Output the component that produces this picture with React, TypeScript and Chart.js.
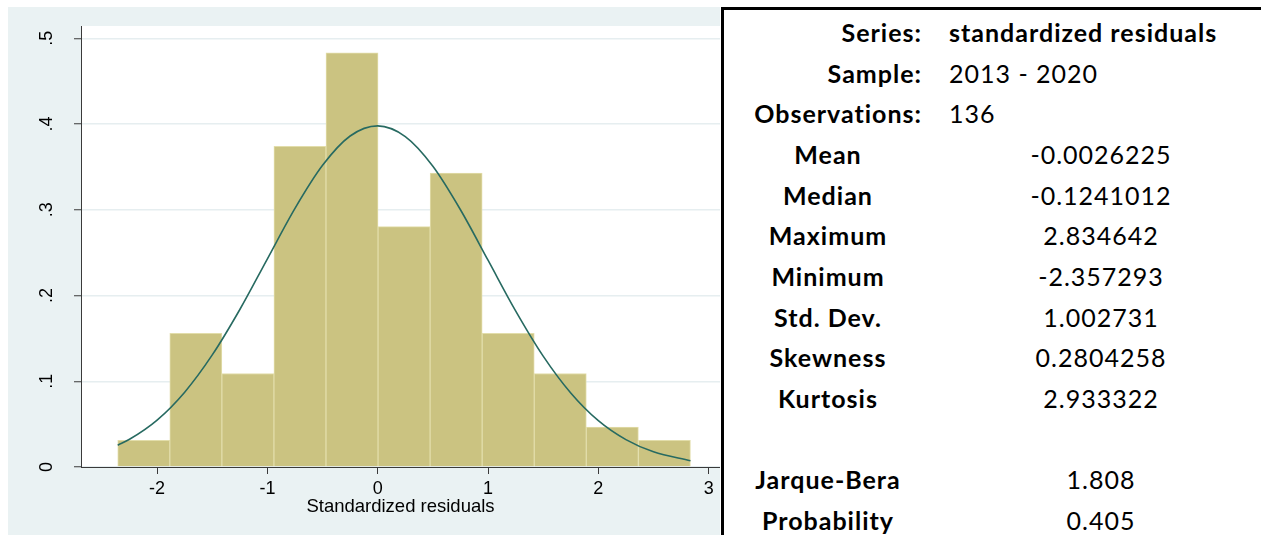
import React, { useEffect, useRef } from "react";
import { Chart, registerables } from "chart.js";

Chart.register(...registerables);

// Histogram bins (edges) and densities
const binEdges = [-2.357, -1.885, -1.413, -0.941, -0.469, 0.003, 0.475, 0.947, 1.419, 1.891, 2.363, 2.835];
const densities = [0.0312, 0.1558, 0.109, 0.3739, 0.4829, 0.2804, 0.3427, 0.1558, 0.109, 0.0467, 0.0312];

// Normal density curve
const curveX = [-2.357, -2.25, -2, -1.75, -1.5, -1.25, -1, -0.75, -0.5, -0.25, 0, 0.25, 0.5, 0.75, 1, 1.25, 1.5, 1.75, 2, 2.25, 2.5, 2.835];
const curveY = [0.0254, 0.0323, 0.0547, 0.0873, 0.1307, 0.1837, 0.2428, 0.3016, 0.3518, 0.386, 0.3978, 0.3853, 0.3507, 0.3, 0.2412, 0.1821, 0.1293, 0.0863, 0.054, 0.0319, 0.0177, 0.0073];

const xTicks = [-2, -1, 0, 1, 2, 3];
const xTickLabels = ["-2", "-1", "0", "1", "2", "3"];
const yTicks = [0, 0.1, 0.2, 0.3, 0.4, 0.5];
const yTickLabels = ["0", ".1", ".2", ".3", ".4", ".5"];
const xTitle = "Standardized residuals";

// Statistics table
const headerLabels = ["Series:", "Sample:", "Observations:"];
const headerValues = ["standardized residuals", "2013 - 2020", "136"];
const statLabels = ["Mean", "Median", "Maximum", "Minimum", "Std. Dev.", "Skewness", "Kurtosis", "", "Jarque-Bera", "Probability"];
const statValues = ["-0.0026225", "-0.1241012", "2.834642", "-2.357293", "1.002731", "0.2804258", "2.933322", "", "1.808", "0.405"];

const BAR_FILL = "rgb(203,195,129)";
const BAR_LINE = "rgb(226,221,170)";
const CURVE = "#276a61";
const PANEL_BG = "#EAF2F3";
const GRID = "#E6EEF0";
const AXIS = "#3a3a3a";
const TICK_FONT = "'Liberation Sans', Arial, sans-serif";

const stataPlugin = {
  id: "stataLook",
  beforeDraw(chart: any) {
    const { ctx, chartArea } = chart;
    ctx.save();
    ctx.fillStyle = "#ffffff";
    ctx.fillRect(chartArea.left, chartArea.top, chartArea.right - chartArea.left, chartArea.bottom - chartArea.top);
    ctx.restore();
  },
  afterDraw(chart: any) {
    const { ctx } = chart;
    const yScale = chart.scales.y;
    ctx.save();
    ctx.fillStyle = "#000";
    ctx.font = `18px ${TICK_FONT}`;
    ctx.textAlign = "center";
    ctx.textBaseline = "alphabetic";
    yTicks.forEach((v, i) => {
      const py = yScale.getPixelForValue(v);
      ctx.save();
      ctx.translate(44, py);
      ctx.rotate(-Math.PI / 2);
      ctx.fillText(yTickLabels[i], 0, 0);
      ctx.restore();
    });
    ctx.restore();
  },
};

function HistogramChart() {
  const ref = useRef<HTMLCanvasElement | null>(null);
  useEffect(() => {
    if (!ref.current) return;
    const barData = densities.map((d, i) => ({ x: (binEdges[i] + binEdges[i + 1]) / 2, y: d }));
    const lineData = curveX.map((x, i) => ({ x, y: curveY[i] }));
    const chart = new Chart(ref.current, {
      type: "bar",
      data: {
        datasets: [
          {
            type: "line",
            data: lineData,
            borderColor: CURVE,
            borderWidth: 1.6,
            pointRadius: 0,
            cubicInterpolationMode: "monotone",
            fill: false,
          } as any,
          {
            type: "bar",
            data: barData,
            backgroundColor: BAR_FILL,
            borderColor: BAR_LINE,
            borderWidth: 1,
            barPercentage: 1,
            categoryPercentage: 1,
          } as any,
        ],
      },
      options: {
        responsive: false,
        animation: false,
        events: [],
        layout: { padding: { top: 19, left: 0, right: 0, bottom: 0 } },
        plugins: { legend: { display: false }, tooltip: { enabled: false }, title: { display: false } },
        scales: {
          x: {
            type: "linear",
            min: -2.69,
            max: 3.103,
            bounds: "data",
            offset: false,
            afterBuildTicks: (s: any) => {
              s.ticks = xTicks.map((v) => ({ value: v }));
            },
            afterFit: (s: any) => {
              s.height = 68;
            },
            ticks: {
              autoSkip: false,
              maxRotation: 0,
              padding: 4,
              color: "#000",
              font: { family: TICK_FONT, size: 18 },
              callback: (v: any) => {
                const i = xTicks.indexOf(Number(v));
                return i >= 0 ? xTickLabels[i] : "";
              },
            },
            grid: { offset: false, drawOnChartArea: false, drawTicks: true, tickLength: 7, tickColor: AXIS, tickWidth: 1 },
            border: { display: true, color: AXIS, width: 1 },
            title: {
              display: true,
              text: xTitle,
              color: "#000",
              font: { family: TICK_FONT, size: 18.5 },
              padding: { top: 0, bottom: 17 },
            },
          },
          y: {
            type: "linear",
            min: 0,
            max: 0.5143,
            bounds: "data",
            afterBuildTicks: (s: any) => {
              s.ticks = yTicks.map((v) => ({ value: v }));
            },
            afterFit: (s: any) => {
              s.width = 73;
            },
            ticks: { display: false },
            grid: { color: GRID, lineWidth: 1.5, drawTicks: true, tickLength: 7, tickColor: AXIS, tickWidth: 1 },
            border: { display: true, color: AXIS, width: 1 },
          },
        },
      },
      plugins: [stataPlugin],
    } as any);
    return () => chart.destroy();
  }, []);
  return <canvas ref={ref} width={712} height={528} style={{ display: "block", width: 712, height: 528 }} />;
}

const ROW0 = 32;
const ROW_STEP = 40.67;
const TABLE_FONT = "Lato, 'Noto Sans', sans-serif";
const TABLE_SIZE = 25;
const TABLE_SPACING = "1px";

function StatsPanel() {
  const rowTop = (i: number) => ROW0 + i * ROW_STEP - 20 - 10;
  const base: React.CSSProperties = {
    position: "absolute",
    height: 40,
    lineHeight: "40px",
    whiteSpace: "nowrap",
    fontFamily: TABLE_FONT,
    fontSize: TABLE_SIZE,
    letterSpacing: TABLE_SPACING,
    color: "#000",
  };
  return (
    <div
      style={{
        position: "absolute",
        left: 721,
        top: 7,
        width: 540,
        height: 528,
        borderTop: "3px solid #000",
        borderLeft: "3px solid #000",
        boxSizing: "border-box",
        background: "#fff",
      }}
    >
      {headerLabels.map((lab, i) => (
        <React.Fragment key={"h" + i}>
          <div style={{ ...base, top: rowTop(i), left: 0, width: 198, textAlign: "right", fontWeight: 700 }}>{lab}</div>
          <div style={{ ...base, top: rowTop(i), left: 225, textAlign: "left", fontWeight: i === 0 ? 700 : 400 }}>
            {headerValues[i]}
          </div>
        </React.Fragment>
      ))}
      {statLabels.map((lab, i) => (
        <React.Fragment key={"s" + i}>
          <div style={{ ...base, top: rowTop(i + 3), left: 0, width: 208, textAlign: "center", fontWeight: 700 }}>{lab}</div>
          <div style={{ ...base, top: rowTop(i + 3), left: 277, width: 200, textAlign: "center", fontWeight: 400 }}>
            {statValues[i]}
          </div>
        </React.Fragment>
      ))}
    </div>
  );
}

export default function App() {
  return (
    <div style={{ position: "absolute", left: 0, top: 0, width: 1261, height: 535, background: "#fff", overflow: "hidden" }}>
      <div style={{ position: "absolute", left: 8, top: 7, width: 712, height: 528, background: PANEL_BG }}>
        <HistogramChart />
      </div>
      <StatsPanel />
    </div>
  );
}
